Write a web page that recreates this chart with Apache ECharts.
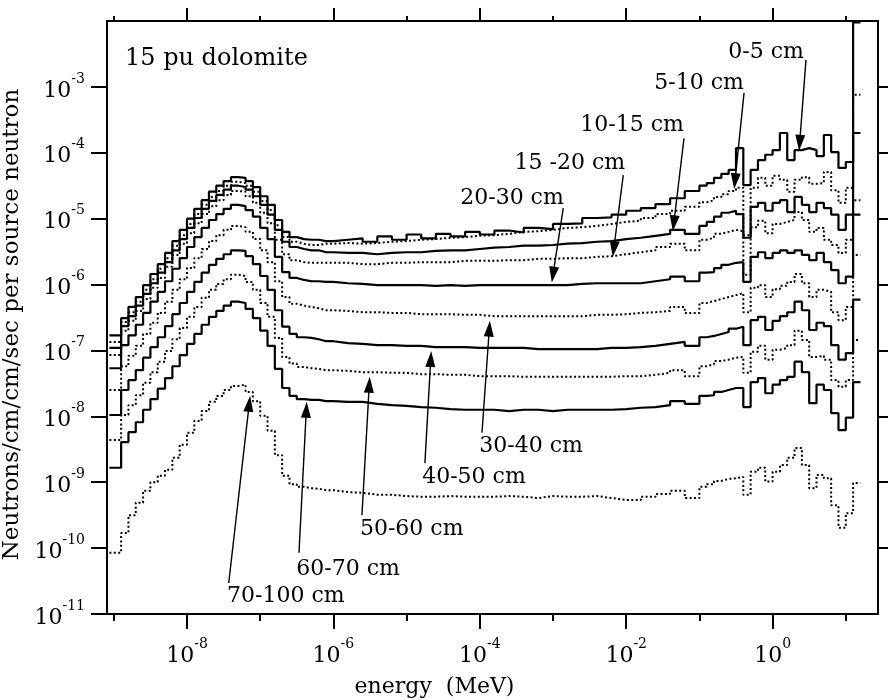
<!DOCTYPE html>
<html>
<head>
<meta charset="utf-8">
<script src="https://cdn.jsdelivr.net/npm/echarts@6/dist/echarts.min.js"></script>
<style>
  html, body { margin: 0; padding: 0; background: #fff; }
  #chart { width: 888px; height: 700px; }
</style>
</head>
<body>
<div id="chart"></div>
<script>
// Lower bin edges of the energy groups (MeV); the last entry closes the top group.
const energyEdges = [
  8.7e-10, 1.259e-9, 1.585e-9, 1.995e-9, 2.512e-9, 3.162e-9, 3.981e-9, 5.012e-9, 6.310e-9, 7.943e-9,
  1e-8, 1.259e-8, 1.585e-8, 1.995e-8, 2.512e-8, 3.162e-8, 3.981e-8, 5.012e-8, 6.310e-8, 7.943e-8,
  1e-7, 1.259e-7, 1.585e-7, 1.995e-7, 2.512e-7, 3.162e-7, 3.981e-7, 5.012e-7, 6.310e-7, 7.943e-7,
  1e-6, 1.585e-6, 2.512e-6, 3.981e-6, 6.310e-6,
  1e-5, 1.585e-5, 2.512e-5, 3.981e-5, 6.310e-5,
  1e-4, 1.585e-4, 2.512e-4, 3.981e-4, 6.310e-4,
  1e-3, 1.585e-3, 2.512e-3, 3.981e-3, 6.310e-3,
  1e-2, 1.585e-2, 2.512e-2, 3.981e-2, 6.310e-2,
  0.1, 0.1259, 0.1585, 0.1995, 0.2512, 0.3162, 0.3981, 0.5012, 0.6310, 0.7943,
  1, 1.259, 1.585, 1.995, 2.512, 3.162, 3.981, 5.012, 6.310, 7.943,
  10, 12.59, 15.85
];

// log10 of the group flux (neutrons/cm/cm/sec per source neutron), one value per group
const flux0to5 = [
  -6.77, -6.51, -6.34, -6.19, -6.01, -5.84, -5.69, -5.52, -5.34, -5.17,
  -5.00, -4.85, -4.72, -4.59, -4.50, -4.43, -4.37, -4.38, -4.43, -4.52,
  -4.66, -4.79, -5.02, -5.20, -5.28, -5.31, -5.32, -5.32, -5.34, -5.34,
  -5.32, -5.30, -5.35, -5.27, -5.32, -5.24, -5.30, -5.23, -5.27, -5.20, -5.24, -5.18, -5.21, -5.14, -5.16, -5.08, -5.07, -4.99, -4.98, -4.94,
  -4.88, -4.84, -4.78, -4.69, -4.58, -4.50, -4.46, -4.38, -4.32, -4.26, -3.93, -4.49, -4.26, -4.11, -4.03, -3.96, -3.70, -4.11, -3.96, -3.93, -3.96, -4.05, -3.73, -3.99, -4.23, -4.14, -2.02
];
const flux5to10 = [
  -6.87, -6.57, -6.42, -6.26, -6.08, -5.92, -5.76, -5.60, -5.41, -5.25,
  -5.08, -4.93, -4.79, -4.67, -4.58, -4.50, -4.44, -4.46, -4.50, -4.59,
  -4.73, -4.87, -5.10, -5.28, -5.35, -5.38, -5.40, -5.40, -5.38, -5.38,
  -5.37, -5.38, -5.37, -5.35, -5.34, -5.32, -5.31, -5.29, -5.28, -5.26, -5.25, -5.23, -5.20, -5.19, -5.17, -5.14, -5.13, -5.11, -5.08, -5.05,
  -5.03, -4.99, -4.93, -4.88, -4.82, -4.75, -4.72, -4.67, -4.63, -4.58, -4.53, -5.25, -4.53, -4.38, -4.50, -4.35, -4.41, -4.59, -4.41, -4.37, -4.47, -4.46, -4.29, -4.57, -4.76, -4.53, -3.12
];
const flux10to15 = [
  -6.96, -6.63, -6.48, -6.32, -6.14, -5.98, -5.82, -5.66, -5.48, -5.31,
  -5.14, -4.99, -4.85, -4.73, -4.64, -4.56, -4.50, -4.52, -4.56, -4.66,
  -4.79, -4.94, -5.17, -5.35, -5.43, -5.46, -5.48, -5.48, -5.51, -5.51,
  -5.52, -5.52, -5.54, -5.52, -5.51, -5.51, -5.49, -5.48, -5.48, -5.46, -5.44, -5.43, -5.41, -5.41, -5.40, -5.38, -5.37, -5.35, -5.34, -5.31,
  -5.29, -5.26, -5.23, -5.17, -5.23, -5.11, -5.05, -4.97, -4.91, -4.88, -4.93, -5.29, -4.82, -4.76, -4.88, -4.76, -4.72, -4.90, -4.67, -4.79, -4.90, -4.76, -4.84, -4.94, -5.17, -4.94, -3.70
];
const flux15to20 = [
  -7.07, -6.70, -6.55, -6.40, -6.22, -6.05, -5.90, -5.73, -5.55, -5.38,
  -5.22, -5.07, -4.93, -4.81, -4.72, -4.64, -4.58, -4.59, -4.66, -4.76,
  -4.91, -5.07, -5.32, -5.54, -5.63, -5.66, -5.67, -5.67, -5.67, -5.67,
  -5.67, -5.69, -5.69, -5.67, -5.67, -5.66, -5.66, -5.66, -5.64, -5.64, -5.64, -5.63, -5.63, -5.61, -5.61, -5.60, -5.60, -5.58, -5.57, -5.54,
  -5.51, -5.48, -5.43, -5.38, -5.48, -5.32, -5.29, -5.23, -5.20, -5.17, -5.19, -5.85, -5.13, -5.03, -5.22, -5.08, -5.05, -5.02, -4.90, -5.02, -5.20, -5.14, -5.32, -5.40, -5.52, -5.32, -4.72
];
const flux20to30 = [
  -7.27, -6.92, -6.77, -6.61, -6.43, -6.26, -6.11, -5.95, -5.76, -5.60,
  -5.43, -5.28, -5.14, -5.02, -4.93, -4.85, -4.79, -4.81, -4.87, -4.97,
  -5.14, -5.31, -5.58, -5.81, -5.90, -5.93, -5.95, -5.95, -5.96, -5.96,
  -5.98, -5.99, -6.01, -6.01, -6.01, -6.01, -6.02, -6.01, -6.02, -6.01, -6.01, -6.01, -6.01, -6.01, -6.01, -6.01, -5.99, -5.98, -5.98, -5.98,
  -5.98, -5.95, -5.92, -5.88, -5.95, -5.82, -5.81, -5.75, -5.70, -5.67, -5.66, -5.96, -5.58, -5.51, -5.60, -5.52, -5.48, -5.52, -5.48, -5.55, -5.63, -5.52, -5.66, -5.78, -5.98, -5.88, -4.94
];
const flux30to40 = [
  -7.60, -7.24, -7.08, -6.93, -6.75, -6.58, -6.43, -6.26, -6.08, -5.92,
  -5.75, -5.60, -5.46, -5.34, -5.25, -5.17, -5.11, -5.13, -5.20, -5.31,
  -5.48, -5.66, -5.95, -6.19, -6.29, -6.32, -6.34, -6.36, -6.39, -6.39,
  -6.40, -6.42, -6.42, -6.43, -6.43, -6.45, -6.45, -6.45, -6.46, -6.46, -6.48, -6.48, -6.48, -6.48, -6.48, -6.48, -6.48, -6.46, -6.46, -6.45,
  -6.43, -6.42, -6.40, -6.34, -6.43, -6.28, -6.25, -6.22, -6.19, -6.16, -6.13, -6.42, -6.05, -6.01, -6.19, -6.07, -6.02, -5.96, -5.84, -5.98, -6.19, -6.08, -6.11, -6.42, -6.54, -6.34, -5.55
];
const flux40to50 = [
  -7.98, -7.60, -7.45, -7.30, -7.11, -6.95, -6.80, -6.63, -6.45, -6.28,
  -6.11, -5.96, -5.82, -5.70, -5.61, -5.54, -5.48, -5.49, -5.57, -5.69,
  -5.87, -6.08, -6.39, -6.64, -6.75, -6.80, -6.81, -6.83, -6.86, -6.86,
  -6.89, -6.90, -6.92, -6.92, -6.93, -6.93, -6.95, -6.95, -6.95, -6.96, -6.96, -6.96, -6.96, -6.98, -6.98, -6.98, -6.98, -6.98, -6.96, -6.96,
  -6.95, -6.93, -6.90, -6.87, -6.93, -6.80, -6.78, -6.75, -6.72, -6.67, -6.64, -6.92, -6.54, -6.49, -6.69, -6.55, -6.48, -6.42, -6.26, -6.39, -6.69, -6.58, -6.63, -6.92, -7.14, -7.04, -6.23
];
const flux50to60 = [
  -8.36, -7.98, -7.83, -7.68, -7.49, -7.33, -7.17, -7.01, -6.83, -6.66,
  -6.49, -6.34, -6.20, -6.08, -5.99, -5.92, -5.85, -5.87, -5.96, -6.08,
  -6.28, -6.49, -6.81, -7.10, -7.20, -7.25, -7.27, -7.28, -7.30, -7.30,
  -7.31, -7.33, -7.33, -7.34, -7.34, -7.36, -7.36, -7.37, -7.37, -7.39, -7.39, -7.39, -7.40, -7.40, -7.40, -7.40, -7.40, -7.40, -7.40, -7.39,
  -7.39, -7.37, -7.34, -7.30, -7.39, -7.24, -7.21, -7.16, -7.14, -7.11, -7.10, -7.34, -7.02, -6.93, -7.14, -6.99, -6.96, -6.92, -6.70, -6.84, -7.10, -7.08, -7.14, -7.45, -7.55, -7.45, -6.84
];
const flux60to70 = [
  -8.78, -8.39, -8.24, -8.09, -7.90, -7.74, -7.58, -7.42, -7.24, -7.07,
  -6.90, -6.75, -6.61, -6.49, -6.40, -6.32, -6.26, -6.28, -6.37, -6.51,
  -6.70, -6.93, -7.28, -7.57, -7.69, -7.74, -7.75, -7.75, -7.77, -7.77,
  -7.78, -7.78, -7.81, -7.83, -7.84, -7.86, -7.87, -7.89, -7.90, -7.90, -7.90, -7.92, -7.90, -7.90, -7.92, -7.90, -7.90, -7.90, -7.90, -7.89,
  -7.87, -7.86, -7.83, -7.77, -7.81, -7.69, -7.68, -7.63, -7.60, -7.57, -7.57, -7.86, -7.48, -7.42, -7.65, -7.52, -7.45, -7.40, -7.17, -7.33, -7.80, -7.52, -7.60, -7.95, -8.21, -8.02, -7.48
];
const flux70to100 = [
  -10.07, -9.77, -9.50, -9.31, -9.13, -9.00, -8.90, -8.81, -8.63, -8.43,
  -8.25, -8.07, -7.92, -7.78, -7.69, -7.60, -7.54, -7.52, -7.63, -7.77,
  -7.99, -8.22, -8.59, -8.90, -9.03, -9.07, -9.09, -9.10, -9.12, -9.12,
  -9.15, -9.16, -9.19, -9.19, -9.21, -9.22, -9.22, -9.21, -9.22, -9.22, -9.22, -9.21, -9.22, -9.24, -9.21, -9.22, -9.22, -9.21, -9.24, -9.27,
  -9.27, -9.22, -9.18, -9.13, -9.24, -9.07, -9.03, -8.98, -8.95, -8.94, -8.92, -9.19, -8.84, -8.78, -8.99, -8.84, -8.74, -8.63, -8.48, -8.74, -9.09, -8.89, -8.94, -9.35, -9.69, -9.47, -9.01
];

const depthNames = ['0-5 cm', '5-10 cm', '10-15 cm', '15 -20 cm', '20-30 cm',
                    '30-40 cm', '40-50 cm', '50-60 cm', '60-70 cm', '70-100 cm'];
const depthFlux = [flux0to5, flux5to10, flux10to15, flux15to20, flux20to30,
                   flux30to40, flux40to50, flux50to60, flux60to70, flux70to100];

// Tick exponents
const yTickExponents = [-11, -10, -9, -8, -7, -6, -5, -4, -3];
const xLabelExponents = [-8, -6, -4, -2, 0];
const xMinorExponents = [-9, -7, -5, -3, -1, 1];

// Depth labels and their pointer arrows, as [log10 energy, log10 flux]
const labelAt = [[-0.09, -2.47], [-1.005, -2.94], [-1.92, -3.59], [-2.77, -4.155], [-3.56, -4.69],
                 [-3.30, -8.46], [-4.08, -8.92], [-4.93, -9.72], [-5.80, -10.32], [-6.65, -10.73]];
const arrowTail = [[0.456, -2.59], [-0.39, -3.09], [-1.21, -3.78], [-2.04, -4.34], [-2.86, -4.84],
                   [-3.97, -8.25], [-4.75, -8.71], [-5.61, -9.50], [-6.47, -10.07], [-7.43, -10.53]];
const arrowHead = [[0.37, -3.85], [-0.514, -4.43], [-1.35, -5.07], [-2.17, -5.46], [-3.00, -5.85],
                   [-3.87, -6.67], [-4.67, -7.13], [-5.51, -7.52], [-6.37, -7.90], [-7.15, -7.81]];

const FONT = 'DejaVu Serif';
const INK = '#000';
const pow10 = e => Math.pow(10, e);
const toPoint = p => [pow10(p[0]), pow10(p[1])];

// Step histogram points: each group value holds from its lower edge to the next edge.
function histogram(logFlux) {
  const pts = logFlux.map((e, i) => [energyEdges[i], pow10(e)]);
  pts.push([energyEdges[energyEdges.length - 1], pow10(logFlux[logFlux.length - 1])]);
  return pts;
}

// "10" with a raised exponent
const powerLabel = v => '{b|10}{s|' + Math.round(Math.log10(v)) + '}';
const powerRich = {
  b: { fontFamily: FONT, fontSize: 22, color: INK, lineHeight: 22, padding: [8, 0, 0, 0] },
  s: { fontFamily: FONT, fontSize: 14, color: INK, lineHeight: 14, padding: [0, 0, 16, 0] }
};

const X_MIN = pow10(-9.093), X_MAX = pow10(1.44);
const Y_MIN = 1e-11, Y_MAX = 1e-2;

function xAxisDef(position, exps, tickLen, withLine, withLabels) {
  const vals = exps.map(pow10);
  return {
    type: 'log', logBase: 10, min: X_MIN, max: X_MAX, position: position,
    axisLine: { show: withLine, lineStyle: { color: INK, width: 2 } },
    axisTick: { show: true, inside: false, length: tickLen, customValues: vals, lineStyle: { color: INK, width: 2 } },
    axisLabel: withLabels
      ? { show: true, customValues: vals, margin: 27, formatter: powerLabel, rich: powerRich }
      : { show: false },
    splitLine: { show: false }, minorTick: { show: false }, minorSplitLine: { show: false }
  };
}

const xAxes = [
  Object.assign(xAxisDef('bottom', xLabelExponents, 15, true, true), {
    name: 'energy  (MeV)', nameLocation: 'middle', nameGap: 62,
    nameTextStyle: { fontFamily: FONT, fontSize: 22, color: INK, padding: [0, 116, 0, 0] }
  }),
  xAxisDef('bottom', xMinorExponents, 7, false, false),
  xAxisDef('top', xLabelExponents, 13, true, false),
  xAxisDef('top', xMinorExponents, 5, false, false)
];

const yVals = yTickExponents.map(pow10);
const yAxes = [
  {
    type: 'log', logBase: 10, min: Y_MIN, max: Y_MAX, position: 'left',
    axisLine: { show: true, lineStyle: { color: INK, width: 2 } },
    axisTick: { show: true, length: 16, customValues: yVals, lineStyle: { color: INK, width: 2 } },
    axisLabel: { show: true, customValues: yVals, margin: 22, formatter: powerLabel, rich: powerRich },
    splitLine: { show: false }, minorTick: { show: false },
    name: 'Neutrons/cm/cm/sec per source neutron', nameLocation: 'middle', nameGap: 80,
    nameTextStyle: { fontFamily: FONT, fontSize: 23, color: INK, padding: [0, 14, 0, 0] }
  },
  {
    type: 'log', logBase: 10, min: Y_MIN, max: Y_MAX, position: 'right',
    axisLine: { show: true, lineStyle: { color: INK, width: 2 } },
    axisTick: { show: true, length: 10, customValues: yTickExponents.slice(1).map(pow10), lineStyle: { color: INK, width: 2 } },
    axisLabel: { show: false }, splitLine: { show: false }
  }
];

const series = depthFlux.map((flux, i) => ({
  name: depthNames[i],
  type: 'line',
  step: 'end',
  xAxisIndex: 0, yAxisIndex: 0,
  showSymbol: false, symbol: 'none',
  silent: true,
  lineStyle: i % 2 === 0
    ? { color: INK, width: 2.2, type: 'solid' }
    : { color: INK, width: 2, type: [2, 2.4] },
  data: histogram(flux)
}));

// Depth annotations: text plus an arrow pointing at the corresponding curve
series.push({
  name: 'annotations',
  type: 'line',
  xAxisIndex: 0, yAxisIndex: 0,
  data: [],
  silent: true,
  markLine: {
    silent: true,
    animation: false,
    label: { show: false },
    lineStyle: { color: INK, width: 1.4, type: 'solid' },
    emphasis: { disabled: true },
    data: arrowTail.map((t, i) => [
      { coord: toPoint(t), symbol: 'none' },
      { coord: toPoint(arrowHead[i]), symbol: 'triangle', symbolSize: [10, 16] }
    ])
  },
  markPoint: {
    silent: true,
    animation: false,
    symbol: 'circle', symbolSize: 1,
    itemStyle: { color: 'rgba(0,0,0,0)' },
    label: { show: true, position: 'inside', formatter: p => p.name, fontFamily: FONT, fontSize: 22, color: INK },
    data: labelAt.map((p, i) => ({ name: depthNames[i], coord: toPoint(p) }))
  }
});

const chart = echarts.init(document.getElementById('chart'), null, { renderer: 'canvas' });
chart.setOption({
  animation: false,
  backgroundColor: '#fff',
  title: {
    text: '15 pu dolomite', left: 125, top: 47, padding: 0,
    textStyle: { fontFamily: FONT, fontSize: 24, fontWeight: 'normal', color: INK }
  },
  grid: { left: 107, top: 21, width: 771, height: 593, outerBoundsMode: 'none', containLabel: false },
  xAxis: xAxes,
  yAxis: yAxes,
  series: series
});
</script>
</body>
</html>
